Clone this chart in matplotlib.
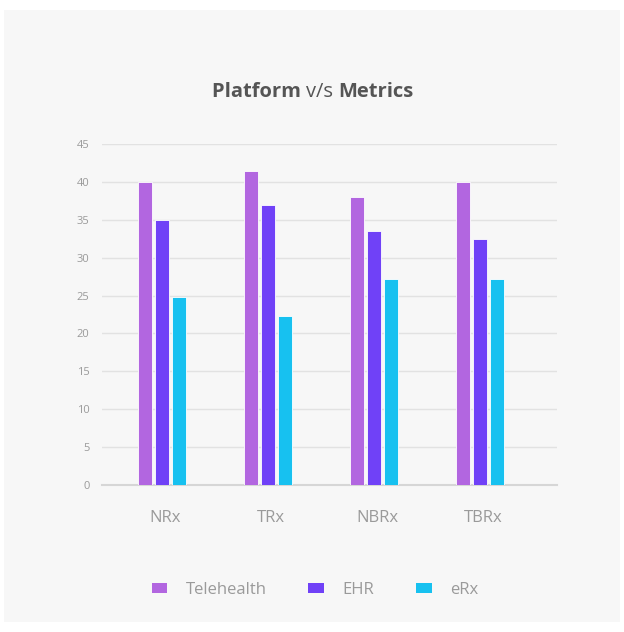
import matplotlib
matplotlib.use("Agg")
import matplotlib.pyplot as plt
import numpy as np
from matplotlib.patches import Rectangle, Patch

categories = ["NRx", "TRx", "NBRx", "TBRx"]
series_names = ["Telehealth", "EHR", "eRx"]
telehealth = [40, 41.4, 38, 40]
ehr = [35, 37, 33.5, 32.5]
erx = [24.8, 22.3, 27.2, 27.2]
colors = ["#b266e0", "#7041f7", "#17c1f0"]
y_ticks = [0, 5, 10, 15, 20, 25, 30, 35, 40, 45]

plt.rcParams["font.family"] = ["Open Sans", "DejaVu Sans"]

fig = plt.figure(figsize=(6.24, 6.32), dpi=100)
fig.patch.set_facecolor("white")
fig.patches.append(Rectangle((4 / 624, 10 / 632), 616 / 624, 612 / 632,
                             transform=fig.transFigure, facecolor="#f7f7f7",
                             edgecolor="none", zorder=-5))

ax = fig.add_axes([102 / 624, 1 - 485 / 632, 455 / 624, 341 / 632])
ax.set_facecolor("none")

x = np.arange(len(categories))
width = 0.13
step = 0.16
for i, (name, vals) in enumerate(zip(series_names, [telehealth, ehr, erx])):
    ax.bar(x + (i - 1) * step, vals, width, color=colors[i], label=name,
           edgecolor="#ffffff", linewidth=0.6, zorder=3)

ax.set_ylim(0, 45)
ax.set_xlim(-0.566, 3.726)
ax.set_yticks(y_ticks)
ax.set_xticks(x + 0.03)
ax.set_xticklabels(categories)
ax.grid(True, axis="y", color="#e2e2e2", linewidth=1, zorder=0)
for s in ["top", "right", "left"]:
    ax.spines[s].set_visible(False)
ax.spines["bottom"].set_color("#d6d6d6")
ax.spines["bottom"].set_linewidth(1.5)
ax.tick_params(axis="y", length=0, pad=9, labelsize=8, labelcolor="#9a9a9a")
ax.tick_params(axis="x", length=0, pad=18, labelsize=12, labelcolor="#9a9a9a")

# title with mixed weights
renderer = fig.canvas.get_renderer()
parts = [("Platform ", "bold"), ("v/s ", "normal"), ("Metrics", "bold")]
texts = []
widths = []
for s, w in parts:
    t = fig.text(0, 0, s, fontsize=14.5, fontweight=w, color="#555555", va="center")
    texts.append(t)
    widths.append(t.get_window_extent(renderer).width)
total = sum(widths)
xpos = 313 - total / 2
for t, wd in zip(texts, widths):
    t.set_position((xpos / 624, 1 - 92 / 632))
    xpos += wd

handles = [Patch(facecolor=c, edgecolor="none") for c in colors]
leg = fig.legend(handles, series_names, loc="center", ncol=3,
                 bbox_to_anchor=(315 / 624, 1 - 590 / 632), frameon=False,
                 fontsize=12, handlelength=0.95, handleheight=0.5,
                 handletextpad=1.1, columnspacing=2.5, labelcolor="#9a9a9a")

fig.savefig("out.png", dpi=100, facecolor=fig.get_facecolor())
